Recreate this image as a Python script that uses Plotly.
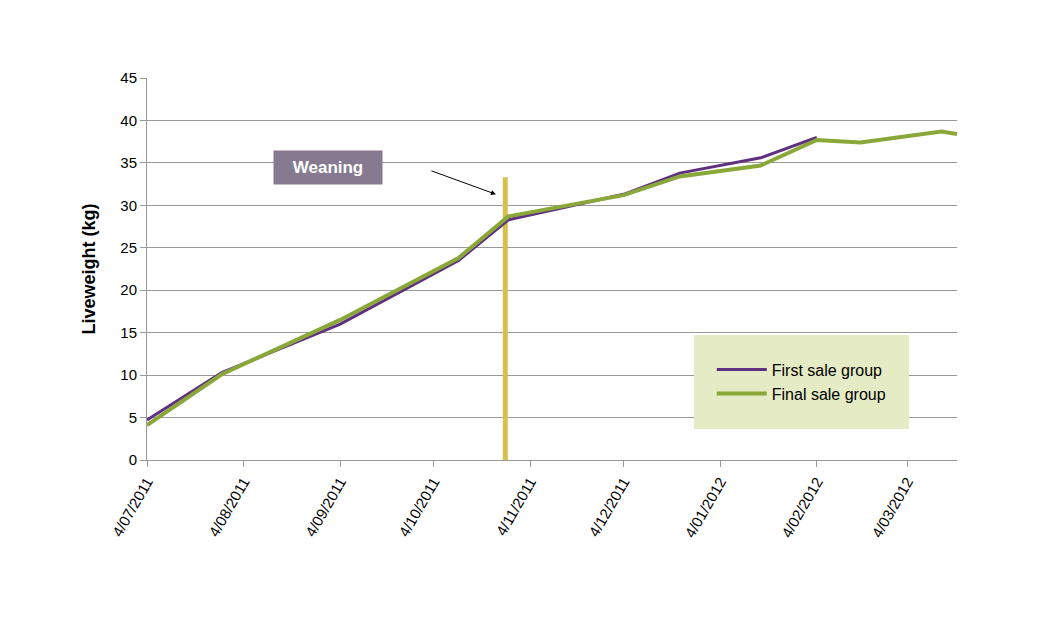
import plotly.graph_objects as go

first_dates = ["2011-07-04","2011-07-28","2011-09-04","2011-10-12","2011-10-28","2011-12-04","2011-12-22","2012-01-17","2012-02-04"]
first_vals = [4.7,10.3,16.0,23.5,28.3,31.3,33.8,35.6,38.0]
final_dates = ["2011-07-04","2011-07-28","2011-09-04","2011-10-12","2011-10-28","2011-12-04","2011-12-22","2012-01-17","2012-02-04","2012-02-18","2012-03-15","2012-03-20"]
final_vals = [4.1,10.1,16.5,23.8,28.7,31.2,33.4,34.7,37.7,37.4,38.7,38.4]
tick_dates = ["2011-07-04","2011-08-04","2011-09-04","2011-10-04","2011-11-04","2011-12-04","2012-01-04","2012-02-04","2012-03-04"]
tick_labels = ["4/07/2011","4/08/2011","4/09/2011","4/10/2011","4/11/2011","4/12/2011","4/01/2012","4/02/2012","4/03/2012"]
weaning_date = "2011-10-27"
weaning_top = 33.3

fig = go.Figure()
fig.add_trace(go.Scatter(x=[weaning_date, weaning_date], y=[0, weaning_top], mode="lines",
                         line=dict(color="#d6bf4c", width=5), showlegend=False, hoverinfo="skip"))
fig.add_trace(go.Scatter(x=first_dates, y=first_vals, mode="lines", name="First sale group",
                         line=dict(color="#5f2f80", width=3)))
fig.add_trace(go.Scatter(x=final_dates, y=final_vals, mode="lines", name="Final sale group",
                         line=dict(color="#8aa83a", width=4)))
fig.add_annotation(x="2011-10-24", y=31.3, ax=-66, ay=-24, axref="pixel", ayref="pixel",
                   text="", showarrow=True, arrowhead=2, arrowsize=1, arrowwidth=1, arrowcolor="black")
fig.add_annotation(x="2011-08-31", y=34.5, text="<b>Weaning</b>", showarrow=False,
                   bgcolor="#857a8f", font=dict(color="white", size=17, family="Liberation Sans"),
                   borderpad=7, width=94)
fig.update_layout(
    width=1040, height=617, margin=dict(l=139, r=91, t=70, b=165),
    plot_bgcolor="white", paper_bgcolor="white",
    font=dict(family="Liberation Sans", size=15, color="black"),
    legend=dict(x=0.675, y=0.205, xanchor="left", yanchor="middle", bgcolor="#e5ebc4",
                font=dict(size=16), borderwidth=18, bordercolor="#e5ebc4", tracegroupgap=2,
                itemwidth=50),
    xaxis=dict(range=["2011-07-04","2012-03-20"], tickvals=tick_dates, ticktext=tick_labels,
               tickangle=-60, showgrid=False, showline=True, linecolor="#999", ticks="outside",
               tickcolor="#999", ticklen=6),
    yaxis=dict(range=[0,45], dtick=5, showgrid=True, gridcolor="#999", showline=True,
               linecolor="#999", ticks="outside", tickcolor="#999", ticklen=6,
               title=dict(text="<b>Liveweight (kg)</b>", font=dict(size=18), standoff=20)),
)
fig.write_html("out.html")
